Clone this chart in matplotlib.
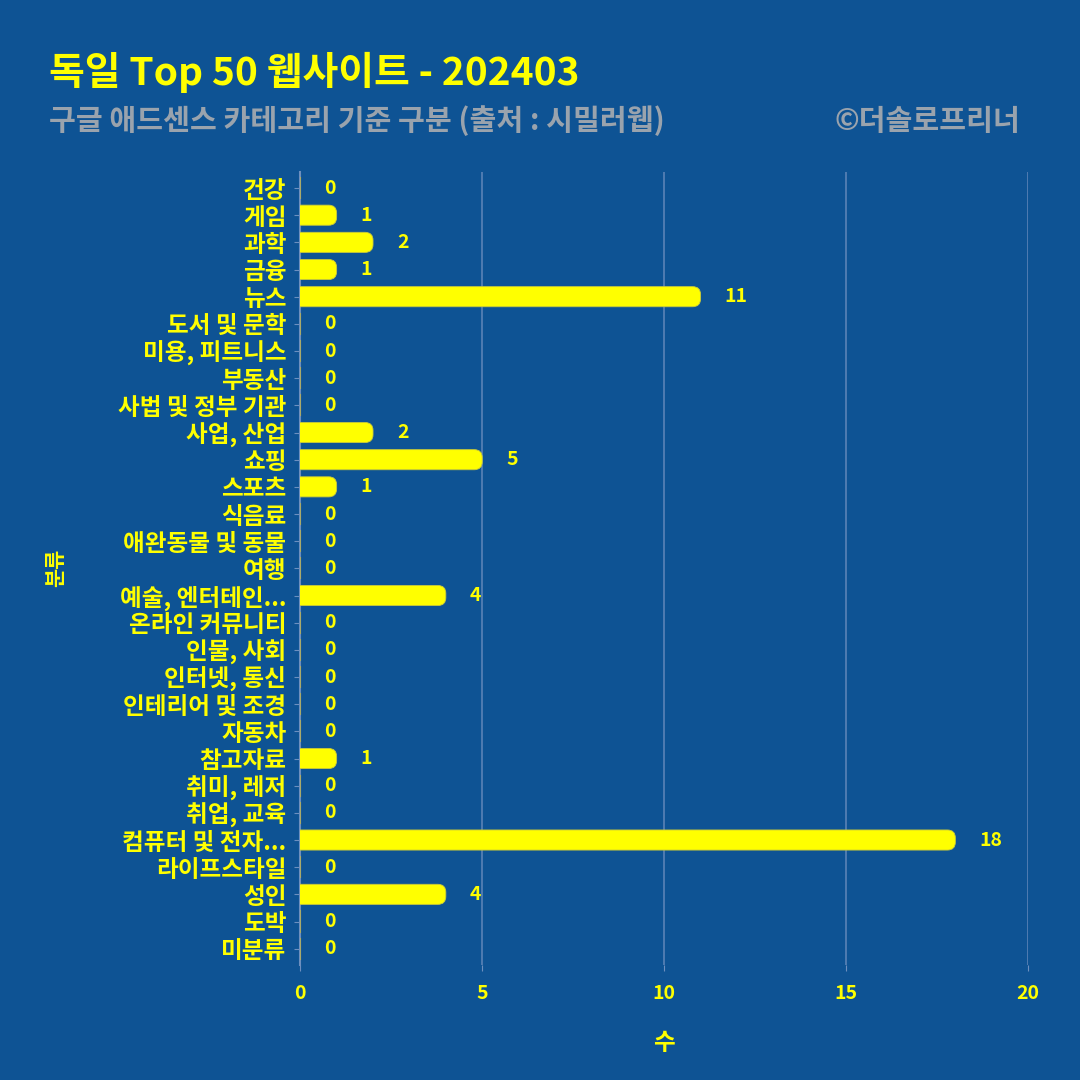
import numpy as np
import matplotlib.pyplot as plt
from matplotlib.patches import FancyBboxPatch

plt.rcParams['font.family'] = ['Noto Sans CJK KR', 'DejaVu Sans']

categories = ['건강', '게임', '과학', '금융', '뉴스', '도서 및 문학', '미용, 피트니스',
              '부동산', '사법 및 정부 기관', '사업, 산업', '쇼핑', '스포츠', '식음료',
              '애완동물 및 동물', '여행', '예술, 엔터테인...', '온라인 커뮤니티', '인물, 사회',
              '인터넷, 통신', '인테리어 및 조경', '자동차', '참고자료', '취미, 레저',
              '취업, 교육', '컴퓨터 및 전자...', '라이프스타일', '성인', '도박', '미분류']
counts = [0, 1, 2, 1, 11, 0, 0, 0, 0, 2, 5, 1, 0, 0, 0, 4, 0, 0, 0, 0, 0, 1, 0, 0, 18, 0, 4, 0, 0]
xticks = [0, 5, 10, 15, 20]

bg = '#0e5394'
yellow = '#ffff00'
gray = '#9aa3ad'

fig = plt.figure(figsize=(10.8, 10.8), dpi=100, facecolor=bg)
ax = fig.add_axes([0.278, 0.1065, 0.674, 0.7345], facecolor=bg)

ypos = np.arange(len(categories))
bars = ax.barh(ypos, counts, height=0.74, color=yellow, linewidth=0)

# rounded right ends: swap each bar for a rounded box of the same size
for b, v in zip(bars, counts):
    b.set_visible(False)
    if v > 0:
        x0, y0 = b.get_x(), b.get_y()
        w, h = b.get_width(), b.get_height()
        p = FancyBboxPatch((x0 - 0.5, y0), w + 0.5, h,
                           boxstyle='round,pad=0,rounding_size=0.22',
                           mutation_aspect=1.333, facecolor=yellow,
                           edgecolor='#c9c93a', linewidth=0.6, zorder=3)
        ax.add_patch(p)
    else:
        ax.plot([0, 0], [b.get_y(), b.get_y() + b.get_height()],
                color='#a9aa6a', lw=1.5, zorder=3)
    ax.annotate(str(v), xy=(v, b.get_y() + b.get_height() / 2),
                xytext=(24, 0), textcoords='offset pixels',
                ha='left', va='center', color=yellow,
                fontsize=14, fontweight='bold', zorder=4)

ax.set_xlim(0, 20)
ax.set_ylim(len(categories) - 0.4, -0.6)
ax.set_xticks(xticks)
ax.set_yticks(ypos)
ax.set_yticklabels(categories)
ax.tick_params(axis='y', colors='#6d8fbf', length=4, labelcolor=yellow,
               labelsize=17, pad=6)
ax.tick_params(axis='x', colors='#6d8fbf', length=4, labelcolor=yellow,
               labelsize=14, pad=10)
for lab in ax.get_yticklabels() + ax.get_xticklabels():
    lab.set_fontweight('bold')

ax.grid(axis='x', color='#6d8fbf', linewidth=1.2, alpha=0.8)
ax.set_axisbelow(True)
for s in ['top', 'right', 'bottom']:
    ax.spines[s].set_visible(False)
ax.spines['left'].set_color('#6d8fbf')
ax.spines['left'].set_linewidth(1.5)

ax.set_xlabel('수', color=yellow, fontsize=17, fontweight='bold', labelpad=20)
ax.set_ylabel('분류', color=yellow, fontsize=15, fontweight='bold')
ax.yaxis.set_label_coords(-0.322, 0.5)

fig.text(0.045, 0.933, '독일 Top 50 웹사이트 - 202403', color=yellow,
         fontsize=28, fontweight='bold', ha='left', va='center')
fig.text(0.045, 0.888, '구글 애드센스 카테고리 기준 구분 (출처 : 시밀러웹)', color=gray,
         fontsize=21, fontweight='bold', ha='left', va='center')
fig.text(0.945, 0.888, '©더솔로프리너', color=gray,
         fontsize=21, fontweight='bold', ha='right', va='center')

fig.savefig('out.png', dpi=100, facecolor=bg)
